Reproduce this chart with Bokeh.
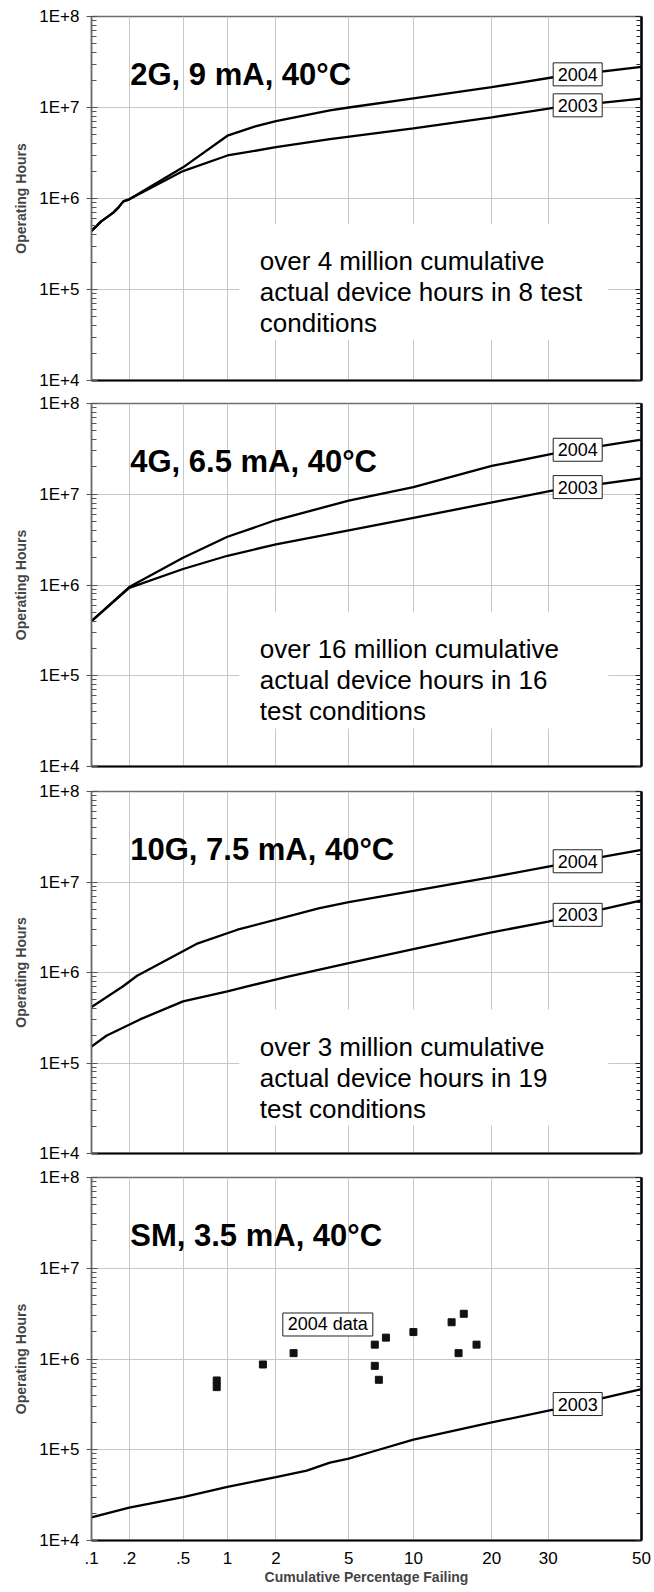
from statistics import NormalDist

import numpy as np
from bokeh.core.properties import value
from bokeh.embed import file_html
from bokeh.layouts import column
from bokeh.models import CustomJSTickFormatter, FixedTicker, LogAxis, Range1d
from bokeh.plotting import figure
from bokeh.resources import INLINE

# ---------------------------------------------------------------------------
# Axis definitions
# ---------------------------------------------------------------------------
X_TICK_PCT = [0.1, 0.2, 0.5, 1, 2, 5, 10, 20, 30, 50]
X_TICK_LABELS = [".1", ".2", ".5", "1", "2", "5", "10", "20", "30", "50"]
Y_MAJOR = [1e4, 1e5, 1e6, 1e7, 1e8]
Y_MINOR = [m * 10.0 ** e for e in range(4, 8) for m in range(2, 10)]

# ---------------------------------------------------------------------------
# Data: cumulative % failing vs operating hours
# ---------------------------------------------------------------------------
# 2G, 9 mA, 40C
G2_PCT_2004 = [0.1, 0.12, 0.15, 0.165, 0.18, 0.2, 0.5, 1, 1.5, 2, 4, 5, 10, 20, 31, 50]
G2_HRS_2004 = [4.4e5, 5.6e5, 7.0e5, 8.0e5, 9.3e5, 9.8e5, 2.2e6, 4.9e6, 6.2e6, 7.1e6,
               9.3e6, 1.0e7, 1.26e7, 1.67e7, 2.15e7, 2.8e7]
G2_PCT_2003 = [0.1, 0.12, 0.15, 0.165, 0.18, 0.2, 0.5, 1, 2, 4, 10, 20, 31, 50]
G2_HRS_2003 = [4.4e5, 5.6e5, 7.0e5, 8.0e5, 9.3e5, 9.8e5, 2.0e6, 2.97e6, 3.66e6, 4.5e6,
               5.9e6, 7.8e6, 9.9e6, 1.25e7]

# 4G, 6.5 mA, 40C
G4_PCT_2004 = [0.1, 0.2, 0.5, 1, 2, 5, 10, 20, 31, 50]
G4_HRS_2004 = [4.0e5, 9.5e5, 2.0e6, 3.4e6, 5.2e6, 8.5e6, 1.2e7, 2.05e7, 2.8e7, 4.0e7]
G4_PCT_2003 = [0.1, 0.2, 0.5, 1, 2, 5, 10, 21.5, 31, 50]
G4_HRS_2003 = [4.0e5, 9.3e5, 1.5e6, 2.1e6, 2.8e6, 4.0e6, 5.5e6, 8.5e6, 1.1e7, 1.5e7]

# 10G, 7.5 mA, 40C
G10_PCT_2004 = [0.1, 0.178, 0.23, 0.62, 1.16, 3.48, 5, 10, 20, 30, 50]
G10_HRS_2004 = [4.14e5, 7.0e5, 9.2e5, 2.07e6, 2.97e6, 5.1e6, 5.98e6, 8.0e6, 1.13e7,
                1.48e7, 2.27e7]
G10_PCT_2003 = [0.1, 0.132, 0.244, 0.5, 1, 1.32, 2.35, 5, 10, 20, 30, 50]
G10_HRS_2003 = [1.52e5, 2.0e5, 3.05e5, 4.79e5, 6.17e5, 7.0e5, 9.0e5, 1.27e6, 1.81e6,
                2.77e6, 3.66e6, 6.25e6]

# SM, 3.5 mA, 40C
SM_PCT_2003 = [0.1, 0.2, 0.5, 1, 2, 3, 4, 5, 7, 10, 20, 31, 50]
SM_HRS_2003 = [1.8e4, 2.3e4, 3.0e4, 3.9e4, 5.0e4, 5.9e4, 7.2e4, 8.0e4, 1.0e5, 1.29e5,
               2.0e5, 2.76e5, 4.65e5]
SM_PCT_2004_DATA = [0.85, 0.85, 1.67, 2.53, 6.7, 6.7, 7.0, 7.55, 10.0, 14.3, 15.9, 15.2, 17.7]
SM_HRS_2004_DATA = [5.8e5, 4.9e5, 8.7e5, 1.16e6, 1.44e6, 8.4e5, 5.9e5, 1.72e6, 1.98e6,
                    2.54e6, 3.15e6, 1.16e6, 1.44e6]

# Text
TITLES = ["2G, 9 mA, 40°C", "4G, 6.5 mA, 40°C", "10G, 7.5 mA, 40°C", "SM, 3.5 mA, 40°C"]
NOTES = [
    ["over 4 million cumulative", "actual device hours in 8 test", "conditions"],
    ["over 16 million cumulative", "actual device hours in 16", "test conditions"],
    ["over 3 million cumulative", "actual device hours in 19", "test conditions"],
    None,
]

# annotation anchors (percent failing, hours)
TITLE_AT = (0.2, 2.3e7)
NOTE_TEXT_PCT = 1.6
NOTE_BOX_PCT = 11.05
NOTE_BASELINE_HRS = [2.05e5, 1.95e5, 1.52e5, None]
NOTE_BOX_HRS = [1.22e5, 1.14e5, 8.9e4, None]
TAG_PCT = 36.0
DATA_TAG_AT = (3.9, 2.4e6)

FONT = "Liberation Sans"
ND = NormalDist()


def zpos(pcts):
    """Normal-probability position of cumulative percentages."""
    return [ND.inv_cdf(p / 100.0) for p in pcts]


X_TICK_Z = zpos(X_TICK_PCT)


def value_at(pcts, hrs, pct):
    """Log-interpolated hours of a series at a given percentage."""
    return float(10 ** np.interp(zpos([pct])[0], zpos(pcts), np.log10(hrs)))


def boxed_tag(p, pct, hrs, text, width):
    x = zpos([pct])
    p.rect(x=x, y=[hrs], width=width, height=23, width_units="screen",
           height_units="screen", fill_color="white", line_color="#222222",
           line_width=1)
    p.text(x=x, y=[hrs], text=[text], text_align="center", text_baseline="middle",
           text_font=value(FONT), text_font_size="18px", text_color="black")


def make_panel(idx, series, height, top, bottom, show_x, scatter=None):
    p = figure(width=654, height=height,
               x_range=Range1d(X_TICK_Z[0], X_TICK_Z[-1]), y_range=Range1d(1e4, 1e8),
               y_axis_type="log", output_backend="svg", toolbar_location=None,
               min_border_left=91, min_border_right=13,
               min_border_top=top, min_border_bottom=bottom)
    p.background_fill_color = "white"
    p.border_fill_color = "white"
    p.outline_line_color = "#6e6e6e"
    p.outline_line_width = 1.5

    blank = CustomJSTickFormatter(code="return '';")

    # x axis on a normal probability scale
    xa = p.xaxis[0]
    xa.ticker = FixedTicker(ticks=X_TICK_Z)
    xa.axis_line_color = "black"
    xa.axis_line_width = 2.2
    xa.major_tick_out = 0
    xa.major_tick_in = 0
    xa.minor_tick_out = 0
    xa.minor_tick_in = 0
    if show_x:
        xa.formatter = CustomJSTickFormatter(
            args=dict(zt=X_TICK_Z, labs=X_TICK_LABELS),
            code="""
            let best = 0;
            for (let i = 0; i < zt.length; i++) {
                if (Math.abs(zt[i] - tick) < Math.abs(zt[best] - tick)) best = i;
            }
            return labs[best];
            """)
        xa.major_label_text_font = FONT
        xa.major_label_text_font_size = "17px"
        xa.major_label_text_color = "black"
        xa.major_label_standoff = 11
        xa.axis_label = "Cumulative Percentage Failing"
        xa.axis_label_text_font = FONT
        xa.axis_label_text_font_size = "14px"
        xa.axis_label_text_font_style = "bold"
        xa.axis_label_standoff = 2
    else:
        xa.formatter = blank
        xa.major_label_text_color = None
        xa.major_label_standoff = 0

    # left log axis
    ticker = FixedTicker(ticks=Y_MAJOR, minor_ticks=Y_MINOR)
    ya = p.yaxis[0]
    ya.ticker = ticker
    ya.formatter = CustomJSTickFormatter(code="return '1E+' + Math.round(Math.log10(tick));")
    ya.axis_line_color = "#6e6e6e"
    ya.axis_line_width = 1.5
    ya.major_tick_out = 5
    ya.major_tick_in = 6
    ya.major_tick_line_color = "#555555"
    ya.minor_tick_out = 0
    ya.minor_tick_in = 5
    ya.minor_tick_line_color = "#555555"
    ya.major_label_text_font = FONT
    ya.major_label_text_font_size = "17px"
    ya.major_label_text_color = "black"
    ya.major_label_standoff = 7
    ya.axis_label = "Operating Hours"
    ya.axis_label_text_font = FONT
    ya.axis_label_text_font_size = "14px"
    ya.axis_label_text_font_style = "bold"
    ya.axis_label_standoff = 7

    # right log axis: ticks only
    ra = LogAxis(ticker=ticker, formatter=blank, axis_line_color="black",
                 axis_line_width=2.5, major_tick_in=6, major_tick_out=0,
                 minor_tick_in=5, minor_tick_out=0,
                 major_tick_line_color="#222222", minor_tick_line_color="#222222",
                 major_label_text_color=None, major_label_standoff=0)
    p.add_layout(ra, "right")

    # grid
    p.xgrid.grid_line_color = "#c8c8c8"
    p.xgrid.grid_line_width = 1
    p.ygrid.grid_line_color = "#c8c8c8"
    p.ygrid.grid_line_width = 1

    # note about test hours, on a white panel that hides the grid
    note = NOTES[idx]
    if note:
        p.rect(x=zpos([NOTE_BOX_PCT]), y=[NOTE_BOX_HRS[idx]], width=369, height=116,
               width_units="screen", height_units="screen",
               fill_color="white", line_color=None)
        p.text(x=zpos([NOTE_TEXT_PCT] * len(note)), y=[NOTE_BASELINE_HRS[idx]] * len(note),
               text=note, y_offset=[0, 31, 62], text_align="left",
               text_baseline="alphabetic", text_font=value(FONT),
               text_font_size="26px", text_color="black")

    # curves and their year tags
    for name, pcts, hrs in series:
        p.line(zpos(pcts), hrs, line_color="black", line_width=2.3)
    for name, pcts, hrs in series:
        boxed_tag(p, TAG_PCT, value_at(pcts, hrs, TAG_PCT), name, 49)

    if scatter is not None:
        pcts, hrs = scatter
        p.scatter(zpos(pcts), hrs, marker="square", size=7,
                  fill_color="#111111", line_color="#111111")
        boxed_tag(p, DATA_TAG_AT[0], DATA_TAG_AT[1], "2004 data", 90)

    # panel heading
    p.text(x=zpos([TITLE_AT[0]]), y=[TITLE_AT[1]], text=[TITLES[idx]], x_offset=1,
           text_align="left", text_baseline="alphabetic", text_font=value(FONT),
           text_font_size="31px", text_font_style="bold", text_color="black")
    return p


p1 = make_panel(0, [("2004", G2_PCT_2004, G2_HRS_2004), ("2003", G2_PCT_2003, G2_HRS_2003)],
                height=392, top=16, bottom=12, show_x=False)
p2 = make_panel(1, [("2004", G4_PCT_2004, G4_HRS_2004), ("2003", G4_PCT_2003, G4_HRS_2003)],
                height=386, top=11, bottom=12, show_x=False)
p3 = make_panel(2, [("2004", G10_PCT_2004, G10_HRS_2004), ("2003", G10_PCT_2003, G10_HRS_2003)],
                height=387, top=13, bottom=12, show_x=False)
p4 = make_panel(3, [("2003", SM_PCT_2003, SM_HRS_2003)],
                height=427, top=12, bottom=52, show_x=True,
                scatter=(SM_PCT_2004_DATA, SM_HRS_2004_DATA))

layout = column(p1, p2, p3, p4, spacing=0)
open("out.html", "w").write(file_html(layout, INLINE))
